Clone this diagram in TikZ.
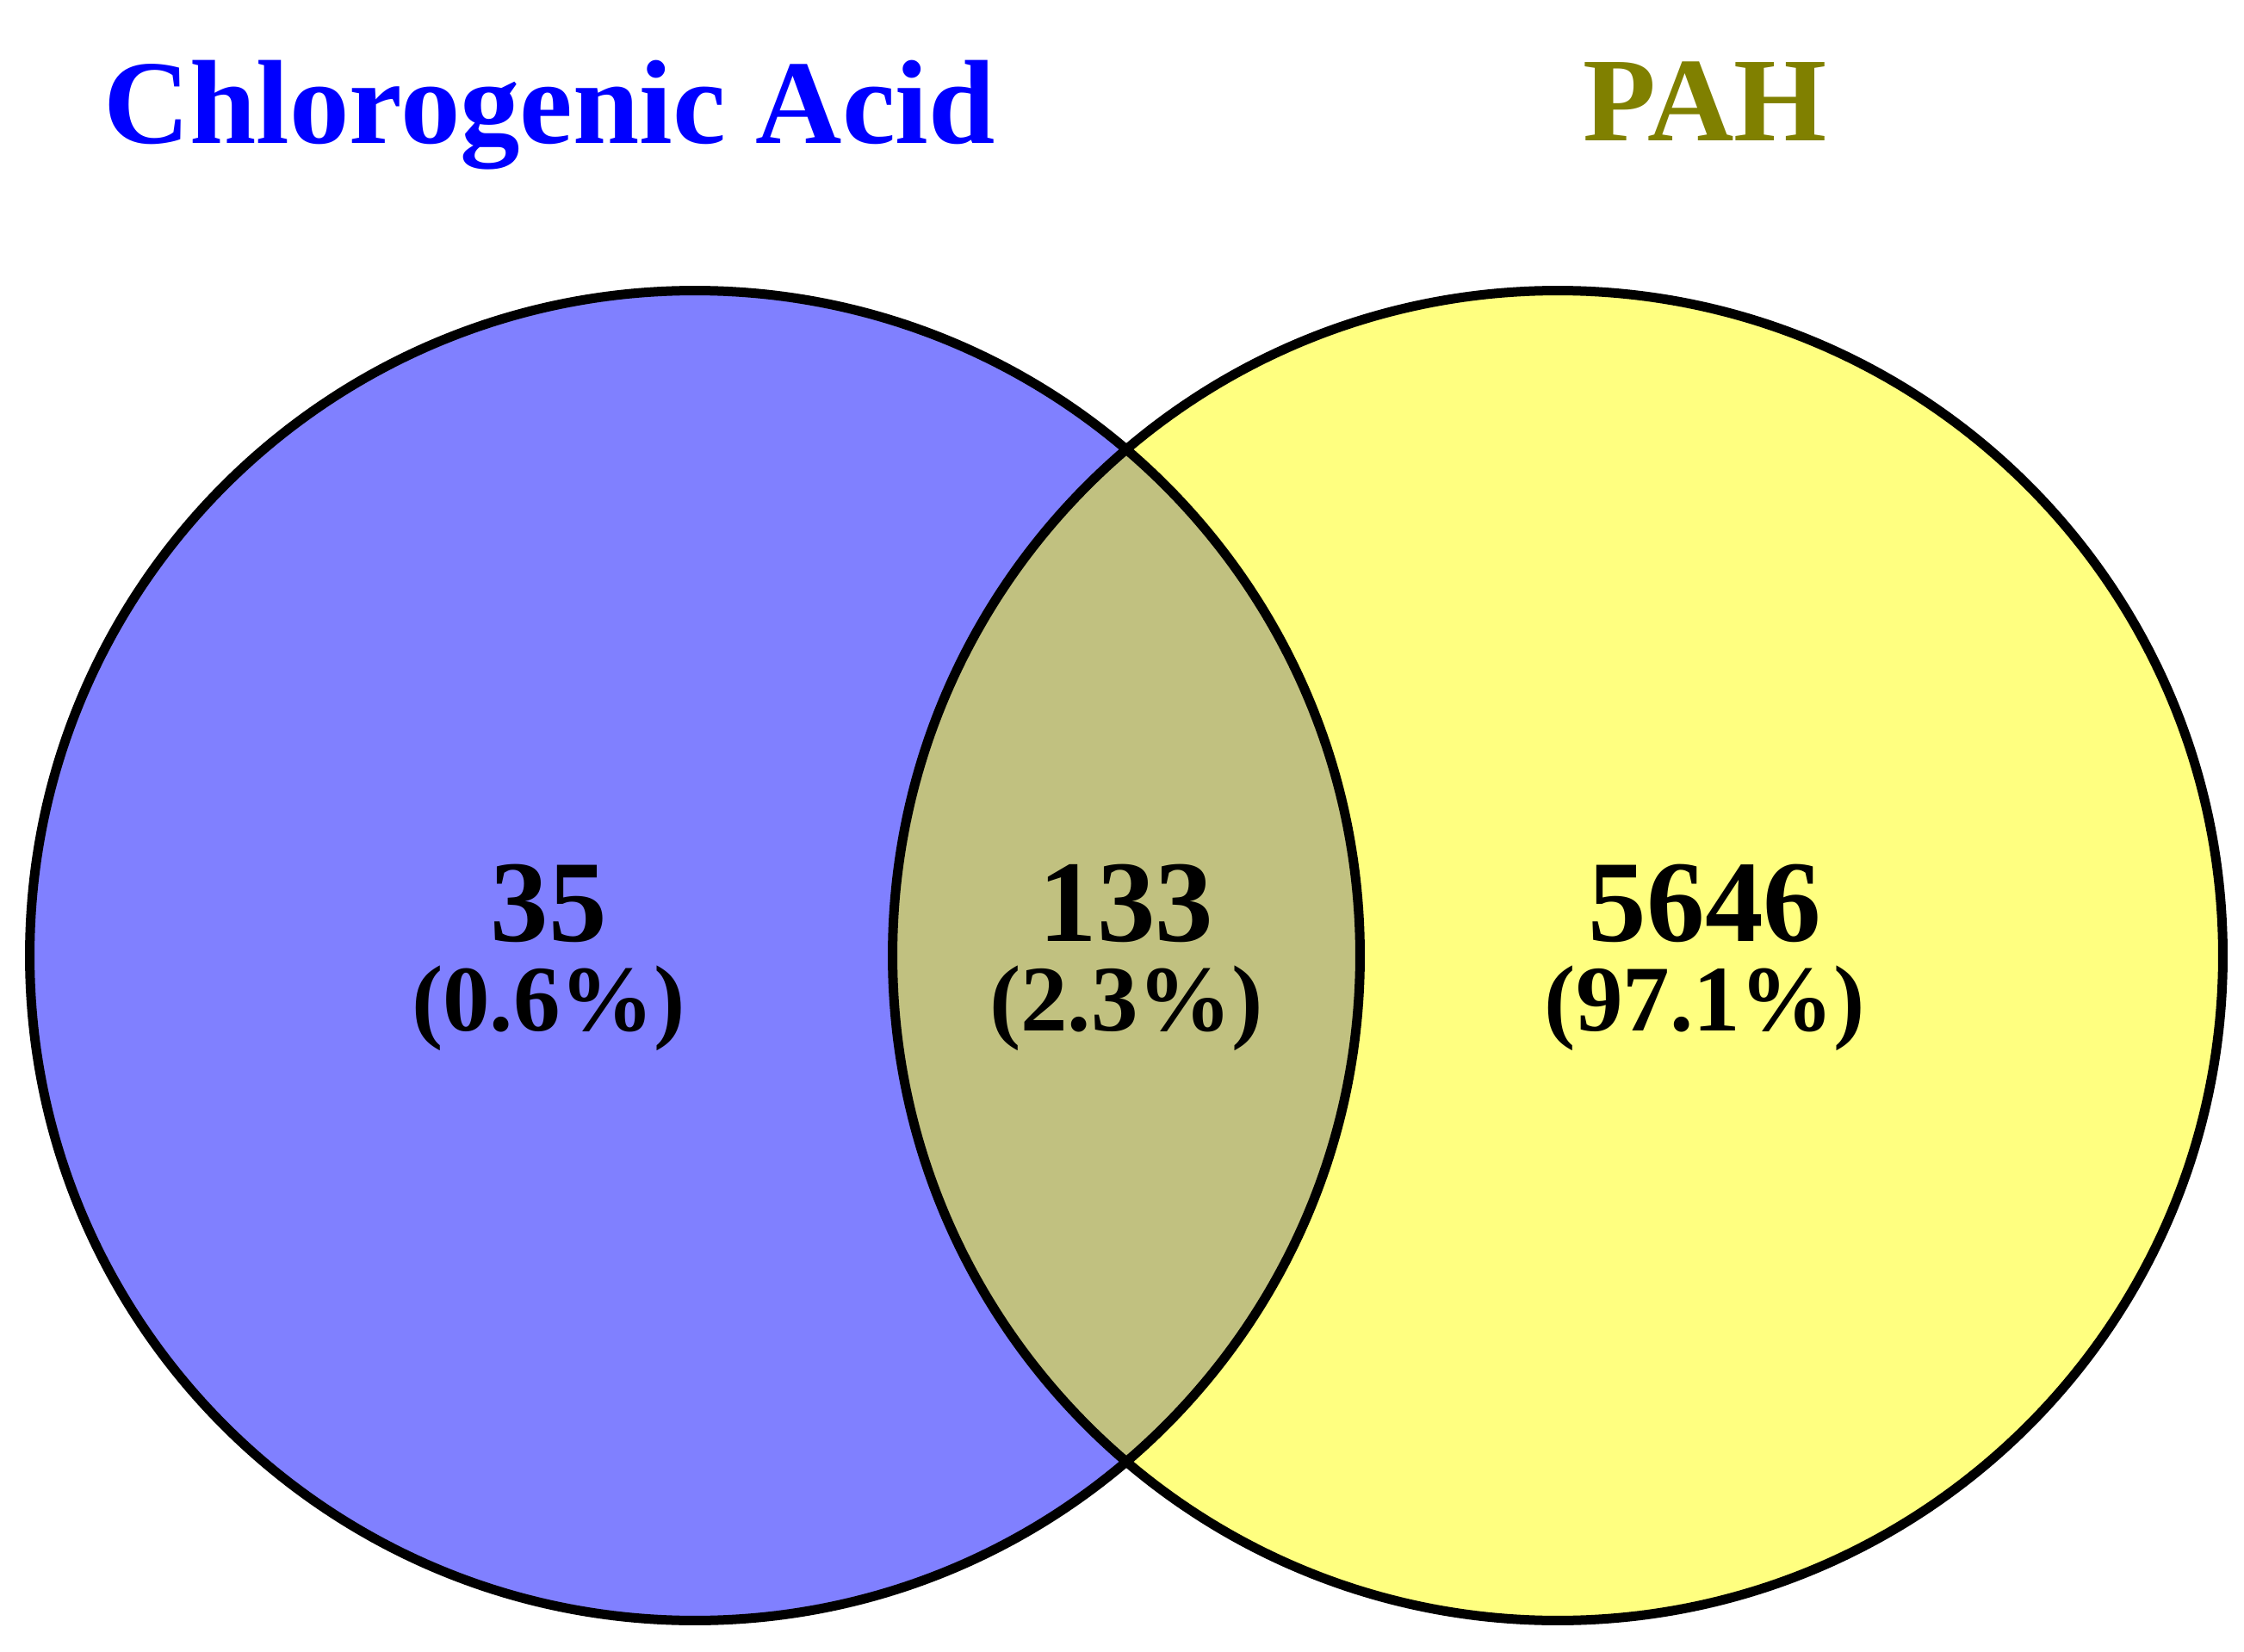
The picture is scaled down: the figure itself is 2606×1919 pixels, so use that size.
\documentclass[tikz,border=0pt]{standalone}
\usepackage{fontspec}
\setmainfont{Liberation Serif}
\definecolor{leftfill}{RGB}{128,128,255}
\definecolor{rightfill}{RGB}{255,255,128}
\definecolor{midfill}{RGB}{193,193,128}
\definecolor{titleblue}{RGB}{0,0,255}
\definecolor{titleolive}{RGB}{128,128,0}
\begin{document}
\begin{tikzpicture}[x=0.01cm,y=-0.01cm,
  outline/.style={draw=black,line width=0.11cm},
  titletext/.style={anchor=base,inner sep=0pt,font=\fontsize{39.5}{42}\selectfont\bfseries},
  numtext/.style={anchor=base,inner sep=0pt,font=\fontsize{38.4}{40}\selectfont\bfseries},
  pcttext/.style={anchor=base,inner sep=0pt,font=\fontsize{31}{33}\selectfont\bfseries}]
\useasboundingbox (0,0) rectangle (2606,1919);
\coordinate (cl) at (807,1110);
\coordinate (cr) at (1809,1110);
\fill[leftfill] (cl) circle[radius=7.72cm];
\fill[rightfill] (cr) circle[radius=7.72cm];
\begin{scope}
  \clip (cl) circle[radius=7.72cm];
  \fill[midfill] (cr) circle[radius=7.72cm];
\end{scope}
\draw[outline] (cl) circle[radius=7.72cm];
\draw[outline] (cr) circle[radius=7.72cm];
\node[titletext,text=titleblue] (tca) at (638,167) {Chlorogenic Acid};
\node[titletext,text=titleolive] (tpah) at (1980,164) {PAH};
\node[numtext] (n1) at (637,1093) {35};
\node[pcttext] (p1) at (637,1197) {(0.6\%)};
\node[numtext] (n2) at (1308,1093) {133};
\node[pcttext] (p2) at (1308,1197) {(2.3\%)};
\node[numtext] (n3) at (1980,1093) {5646};
\node[pcttext] (p3) at (1980,1197) {(97.1\%)};
\end{tikzpicture}
\end{document}
